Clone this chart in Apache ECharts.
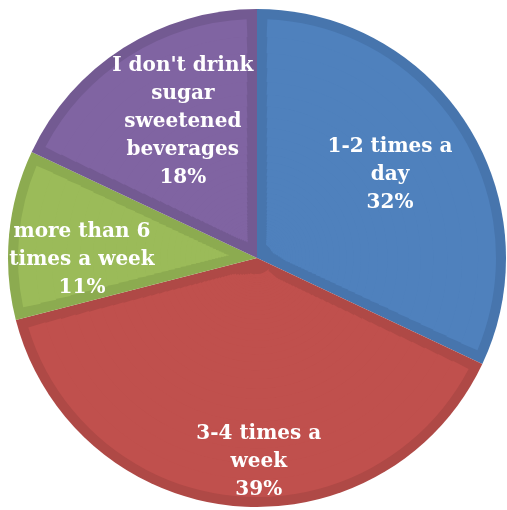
<!DOCTYPE html>
<html>
<head>
<meta charset="utf-8">
<script src="https://cdn.jsdelivr.net/npm/echarts@6/dist/echarts.min.js"></script>
<style>
  html, body { margin: 0; padding: 0; background: #ffffff; }
  #chart { width: 507px; height: 510px; }
</style>
</head>
<body>
<div id="chart"></div>
<script>
// Frequency of sugar-sweetened beverage consumption (share of respondents, %)
const categories = [
  '1-2 times a day',
  '3-4 times a week',
  'more than 6 times a week',
  "I don't drink sugar sweetened beverages"
];
const labelLines = [
  '1-2 times a\nday',
  '3-4 times a\nweek',
  'more than 6\ntimes a week',
  "I don't drink\nsugar\nsweetened\nbeverages"
];
const values = [32, 39, 11, 18];

// Office-style palette: face colour and darker bevel edge
const faceColors = ['#4f81bd', '#c0504d', '#9bbb59', '#8064a2'];
const edgeColors = ['#4775ad', '#af4946', '#8cab50', '#735a92'];

// label placement: distance from the centre and a small turn (degrees, clockwise)
const labelRadius = [154, 201, 172, 152];
const labelTurn = [0.3, -5.9, -6.0, 3.8];

const CX = 257, CY = 258, R = 249, BEVEL = 10;

const chart = echarts.init(document.getElementById('chart'), null, { renderer: 'canvas' });

const series = [];

// base disc in the edge colours
series.push({
  type: 'pie',
  center: [CX, CY],
  radius: [0, R],
  startAngle: 90,
  clockwise: true,
  silent: true,
  label: { show: false },
  labelLine: { show: false },
  emphasis: { disabled: true },
  data: categories.map((name, i) => ({
    name, value: values[i], itemStyle: { color: edgeColors[i] }
  }))
});

// face colour laid on top as many thin rings; each ring gets an angular gap
// sized for its own radius, so the dark band along the slice edges keeps a
// roughly constant width from the centre out to the rim
const RING_COUNT = 36, R_IN = 16, R_OUT = R - BEVEL;
const ringEdges = [];
for (let k = 0; k <= RING_COUNT; k++) {
  ringEdges.push(R_IN * Math.pow(R_OUT / R_IN, k / RING_COUNT));
}
for (let k = 0; k < RING_COUNT; k++) {
  const a = ringEdges[k] - (k > 0 ? 0.6 : 0);
  const b = ringEdges[k + 1];
  const mid = (ringEdges[k] + b) / 2;
  const pad = (2 * BEVEL / mid) * 180 / Math.PI;
  series.push({
    type: 'pie',
    center: [CX, CY],
    radius: [a, b],
    startAngle: 90,
    clockwise: true,
    padAngle: pad,
    silent: true,
    label: { show: false },
    labelLine: { show: false },
    emphasis: { disabled: true },
    data: categories.map((name, i) => ({
      name, value: values[i], itemStyle: { color: faceColors[i] }
    }))
  });
}

// text labels, one transparent ring per label
categories.forEach((_, j) => {
  series.push({
    type: 'pie',
    center: [CX, CY],
    radius: [labelRadius[j] - 1, labelRadius[j] + 1],
    startAngle: 90 - labelTurn[j],
    clockwise: true,
    silent: true,
    labelLine: { show: false },
    emphasis: { disabled: true },
    itemStyle: { color: 'rgba(0,0,0,0)' },
    label: {
      show: true,
      position: 'inside',
      rotate: 0,
      color: '#ffffff',
      fontFamily: 'DejaVu Serif',
      fontWeight: 'bold',
      fontSize: 20,
      lineHeight: 28,
      align: 'center',
      formatter: p => labelLines[p.dataIndex] + '\n' + p.value + '%'
    },
    data: categories.map((name, i) => ({
      name, value: values[i], label: { show: i === j }
    }))
  });
});

chart.setOption({
  animation: false,
  backgroundColor: '#ffffff',
  series
});
</script>
</body>
</html>
